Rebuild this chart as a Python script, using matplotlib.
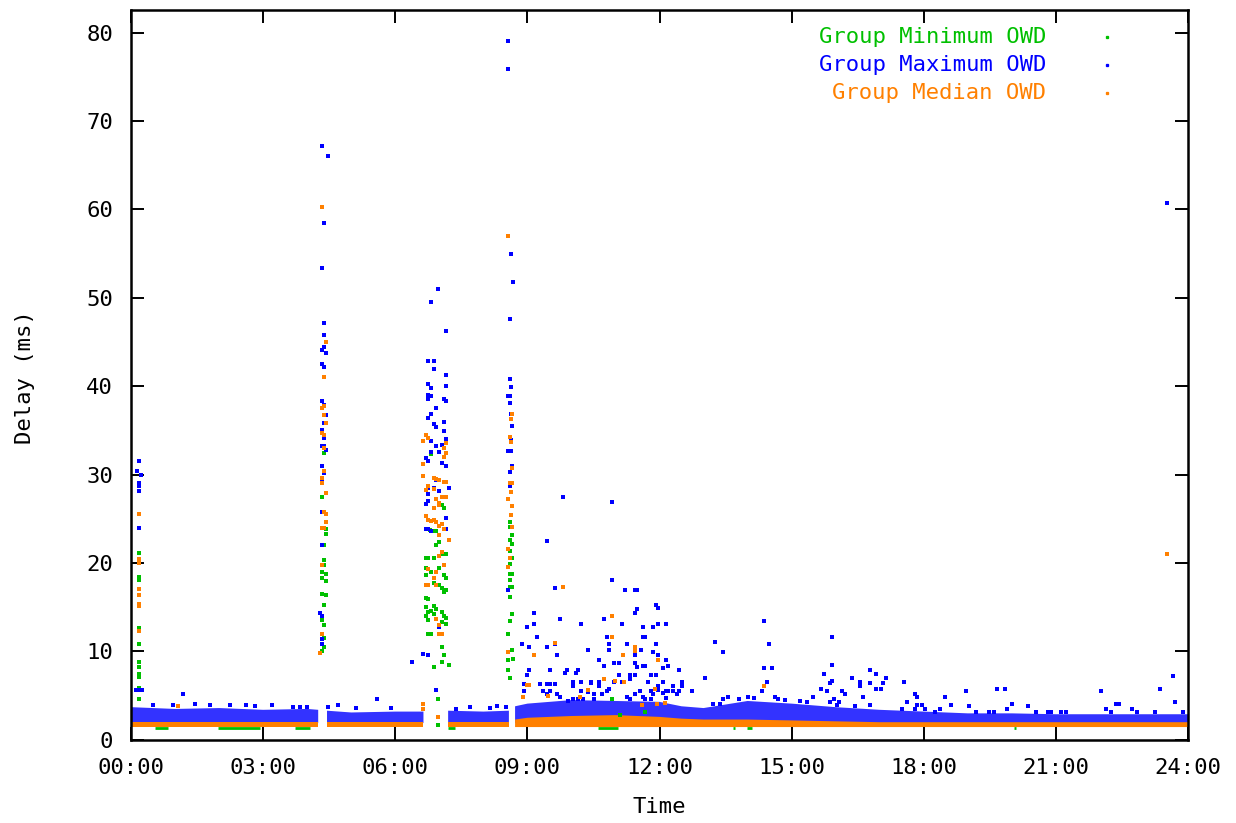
import numpy as np
import matplotlib.pyplot as plt

# colours of the three series (gnuplot-like)
c_min = '#00c000'
c_max = '#0000ff'
c_med = '#ff8000'

# x ticks (hours) and y ticks (ms)
hour_ticks = [0, 3, 6, 9, 12, 15, 18, 21, 24]
hour_labels = ['00:00', '03:00', '06:00', '09:00', '12:00', '15:00', '18:00', '21:00', '24:00']
ms_ticks = [0, 10, 20, 30, 40, 50, 60, 70, 80]

# dense baseline bands (hours, ms); nan = gap in the data
band_hours = [0, 1, 2, 3, 4, 4.25, 4.35, 4.45, 5, 6, 6.64, 6.9, 7.2, 8, 8.58, 8.65, 8.72,
              9, 10, 11, 12, 12.5, 13, 14, 15, 16, 17, 18, 19, 20, 21, 22, 23, 24]
nan = np.nan
max_band_top = [3.7, 3.5, 3.6, 3.4, 3.5, 3.4, nan, 3.3, 3.1, 3.2, 3.2, nan, 3.3, 3.2, 3.3, nan, 3.8,
                4.1, 4.5, 4.4, 4.3, 3.8, 3.6, 4.4, 4.1, 3.7, 3.4, 3.2, 3.0, 3.0, 2.9, 2.9, 2.9, 2.9]
max_band_bottom = [1.9, 1.9, 1.9, 1.9, 1.9, 1.9, nan, 1.9, 1.9, 1.9, 1.9, nan, 1.9, 1.9, 1.9, nan, 1.9,
                   1.9, 1.9, 1.9, 1.9, 1.9, 1.9, 1.9, 1.9, 1.9, 1.9, 1.9, 1.9, 1.9, 1.9, 1.9, 1.9, 1.9]
med_band_top = [2.0, 2.0, 2.0, 2.0, 2.0, 2.0, nan, 2.0, 2.0, 2.0, 2.0, nan, 2.0, 2.0, 2.0, nan, 2.3,
                2.5, 2.7, 2.8, 2.6, 2.4, 2.3, 2.3, 2.2, 2.1, 2.0, 2.0, 2.0, 2.0, 2.0, 2.0, 2.0, 2.0]
med_band_bottom = [1.45, 1.45, 1.45, 1.45, 1.45, 1.45, nan, 1.45, 1.45, 1.45, 1.45, nan, 1.45, 1.45, 1.45, nan, 1.45,
                   1.45, 1.45, 1.45, 1.45, 1.45, 1.45, 1.45, 1.45, 1.45, 1.45, 1.45, 1.45, 1.45, 1.45, 1.45, 1.45, 1.45]

# stretches where the group minimum shows below the median band
min_floor_start = [0.55, 1.98, 3.72, 7.20, 10.60, 13.67, 13.99, 20.05]
min_floor_end = [0.84, 2.93, 4.07, 7.36, 11.06, 13.72, 14.10, 20.10]
min_floor_ms = 1.3

# individual points (hours, ms)
min_points = [
    (0.18, 21.1), (0.18, 18.4), (0.18, 18.1), (0.18, 12.6), (0.18, 10.9), (0.18, 8.8), (0.18, 8.2),
    (0.18, 7.5), (0.18, 7.1), (0.18, 5.9), (0.18, 4.6),
    (4.38, 32.4), (4.34, 27.5), (4.42, 23.8), (4.42, 23.3), (4.38, 22.0), (4.38, 20.3), (4.38, 19.8),
    (4.34, 19.0), (4.34, 18.3), (4.42, 18.8), (4.42, 18.0), (4.34, 16.5), (4.42, 16.4), (4.38, 15.2),
    (4.34, 13.6), (4.38, 13.0), (4.38, 11.5), (4.34, 10.9), (4.38, 10.5), (4.34, 10.1),
    (6.81, 32.3), (6.69, 20.6), (6.75, 20.6), (6.87, 20.6), (7.05, 21.0), (7.16, 21.0), (6.93, 23.6),
    (6.87, 23.6), (6.99, 22.4), (6.93, 22.0), (7.05, 26.6), (7.11, 26.2), (6.69, 19.4), (6.81, 19.0),
    (6.69, 18.7), (6.99, 19.4), (7.11, 18.6), (7.16, 18.3), (6.87, 17.7), (6.99, 17.5), (7.05, 17.2),
    (7.11, 16.7), (7.16, 16.9), (6.69, 16.0), (6.75, 15.9), (6.69, 15.0), (6.87, 15.1), (6.93, 14.8),
    (6.75, 14.5), (6.81, 14.6), (6.69, 14.0), (6.87, 14.2), (6.75, 13.6), (7.05, 14.5), (7.11, 14.0),
    (7.16, 13.8), (7.05, 13.3), (7.16, 13.1), (6.75, 12.0), (6.81, 12.0), (7.05, 10.5), (7.11, 9.6),
    (6.87, 8.2), (7.05, 8.8), (7.22, 8.5), (6.98, 4.6), (6.79, 23.7), (6.98, 1.7),
    (8.60, 24.6), (8.60, 24.1), (8.64, 23.2), (8.60, 22.6), (8.64, 22.1), (8.60, 21.4), (8.64, 20.6),
    (8.60, 19.9), (8.60, 18.8), (8.64, 18.8), (8.60, 18.1), (8.60, 17.3), (8.64, 17.3), (8.60, 16.2),
    (8.64, 14.2), (8.60, 13.5), (8.55, 12.0), (8.64, 10.2), (8.57, 9.0), (8.68, 9.2), (8.57, 7.9),
    (8.60, 7.0),
    (10.92, 4.6), (11.10, 2.8), (11.67, 3.2),
]

max_points = [
    (0.18, 31.6), (0.14, 30.4), (0.23, 30.0), (0.18, 29.0), (0.18, 28.7), (0.18, 28.1), (0.18, 24.0),
    (0.11, 5.6), (0.18, 5.6), (0.26, 5.6),
    (4.34, 67.2), (4.47, 66.0), (4.38, 58.5), (4.34, 53.4), (4.38, 47.2), (4.38, 45.8), (4.34, 44.1),
    (4.38, 44.4), (4.42, 43.8), (4.34, 42.5), (4.38, 42.2), (4.34, 38.3), (4.38, 37.9), (4.42, 36.7),
    (4.38, 35.8), (4.34, 35.0), (4.38, 34.1), (4.34, 33.2), (4.38, 33.2), (4.42, 32.8), (4.34, 31.0),
    (4.38, 30.2), (4.34, 29.4), (4.34, 25.8), (4.34, 22.0), (4.30, 14.4), (4.34, 14.0), (4.34, 11.4),
    (4.34, 10.9),
    (6.98, 51.0), (6.81, 49.5), (7.16, 46.3), (6.75, 42.8), (6.87, 42.8), (6.87, 41.9), (7.16, 41.3),
    (6.75, 40.3), (6.81, 39.8), (6.75, 39.0), (6.81, 38.9), (6.75, 38.5), (7.16, 40.0), (7.11, 38.6),
    (7.16, 38.3), (6.93, 37.5), (6.81, 36.9), (6.75, 36.4), (6.87, 35.7), (6.93, 35.4), (7.11, 36.0),
    (7.11, 34.9), (7.16, 34.0), (6.81, 33.8), (6.93, 33.2), (7.05, 33.4), (6.99, 32.6), (6.81, 32.6),
    (6.69, 31.9), (6.75, 31.5), (7.05, 31.3), (7.16, 31.0), (6.93, 29.4), (6.99, 29.4), (6.75, 28.5),
    (6.75, 27.8), (6.87, 28.5), (6.99, 28.1), (7.22, 28.5), (6.69, 26.7), (6.75, 27.0), (6.69, 23.8),
    (6.75, 23.8), (6.81, 23.6), (7.16, 25.1), (7.16, 23.9), (6.99, 12.8), (6.64, 9.7), (6.75, 9.6),
    (6.39, 8.8), (6.93, 5.6), (6.64, 3.5),
    (8.57, 79.0), (8.57, 75.9), (8.62, 55.0), (8.68, 51.8), (8.60, 47.6), (8.60, 40.8), (8.62, 39.9),
    (8.57, 38.9), (8.60, 38.9), (8.60, 38.1), (8.62, 36.9), (8.62, 36.3), (8.64, 35.5), (8.62, 33.9),
    (8.57, 32.7), (8.62, 32.7), (8.64, 31.0), (8.60, 30.3), (8.60, 28.7), (8.57, 16.9),
    (1.17, 5.2), (5.58, 4.6), (1.45, 4.1), (2.82, 3.8), (2.60, 3.9), (3.67, 3.7), (3.84, 3.7),
    (3.99, 3.7), (4.71, 3.9), (4.48, 3.7), (8.51, 3.7), (8.15, 3.6), (7.38, 3.5),
    (0.50, 4.0), (0.95, 3.9), (1.80, 4.0), (2.25, 3.9), (3.20, 3.9), (5.10, 3.6), (5.90, 3.6),
    (7.70, 3.7), (8.30, 3.8),
    (9.80, 27.5), (10.92, 26.9), (9.45, 22.5), (10.92, 18.1), (9.63, 17.2), (11.22, 16.9), (11.44, 16.9),
    (11.49, 16.9), (11.49, 14.8), (11.44, 14.3), (11.92, 15.2), (11.97, 14.9), (9.15, 14.3), (9.74, 13.7),
    (10.74, 13.7), (8.98, 12.8), (9.15, 13.1), (10.21, 13.1), (11.14, 13.1), (11.62, 12.8), (11.86, 12.8),
    (11.97, 13.1), (12.15, 13.1), (9.21, 11.6), (10.80, 11.6), (10.92, 11.6), (11.62, 11.6), (11.67, 11.6),
    (9.04, 10.5), (9.45, 10.5), (9.63, 10.8), (10.85, 10.8), (10.85, 10.2), (11.27, 10.8), (11.44, 10.2),
    (11.91, 10.8), (10.38, 10.2), (11.44, 9.6), (11.44, 8.7), (11.49, 8.2), (11.57, 10.2), (11.97, 9.6),
    (11.86, 9.9), (9.68, 9.6), (11.09, 8.7), (10.97, 8.7), (10.63, 9.0), (10.74, 8.4), (11.62, 8.4),
    (11.67, 8.4), (12.15, 9.0), (12.20, 8.4), (12.09, 8.1), (12.45, 7.9), (13.26, 11.1), (13.43, 9.9),
    (13.03, 7.0), (12.73, 5.5), (12.50, 6.6), (10.16, 7.9), (10.10, 7.6), (9.85, 7.6), (9.91, 7.9),
    (8.98, 7.3), (9.04, 7.9), (9.51, 7.9), (9.29, 6.3), (9.45, 6.3), (9.51, 6.3), (9.63, 6.3),
    (8.92, 6.3), (10.04, 6.6), (10.21, 6.6), (10.04, 6.1), (10.44, 6.6), (10.38, 5.4), (10.44, 6.4),
    (10.63, 6.6), (10.63, 6.1), (11.09, 7.3), (10.97, 6.6), (11.14, 6.6), (11.33, 7.3), (11.44, 7.3),
    (11.33, 6.9), (11.73, 6.6), (11.80, 7.3), (11.91, 7.3), (11.97, 6.1), (12.09, 6.6), (12.31, 6.1),
    (12.50, 6.1), (12.45, 5.5), (12.39, 5.2), (12.15, 4.7), (12.09, 5.3), (11.97, 5.6), (13.56, 4.9),
    (13.21, 4.1), (13.37, 4.1), (13.45, 4.6), (10.21, 5.5), (10.27, 4.6), (10.16, 4.6), (10.51, 5.2),
    (10.51, 4.6), (10.69, 5.2), (9.35, 5.5), (9.45, 5.2), (9.51, 5.5), (9.74, 4.9), (9.68, 5.2),
    (9.93, 4.4), (10.04, 4.6), (10.80, 5.5), (10.86, 5.8), (11.27, 4.9), (11.33, 4.6), (11.44, 5.2),
    (11.56, 5.5), (11.62, 4.9), (11.67, 4.6), (11.80, 5.5), (11.86, 5.2), (11.80, 4.6), (12.15, 5.5),
    (12.20, 5.5), (12.31, 5.5), (8.92, 5.5), (8.87, 10.8),
    (14.37, 13.4), (14.49, 10.8), (14.37, 8.1), (14.55, 8.1), (14.43, 6.6), (14.32, 5.5), (14.62, 4.9),
    (15.91, 11.6), (15.91, 8.5), (15.74, 7.5), (15.86, 6.4), (15.91, 6.7), (15.67, 5.8), (15.80, 5.5),
    (15.49, 4.9), (16.14, 5.5), (16.20, 5.2), (15.97, 4.6), (16.08, 4.3), (16.02, 4.0), (15.86, 4.3),
    (16.38, 7.0), (16.55, 6.6), (16.55, 6.1), (16.78, 7.9), (16.91, 7.5), (17.14, 7.0), (17.08, 6.4),
    (17.02, 5.8), (16.91, 5.8), (16.78, 6.4), (16.61, 4.9), (16.44, 3.8), (16.79, 4.0), (17.55, 6.6),
    (17.79, 5.2), (17.84, 4.9), (17.61, 4.3), (17.84, 4.0), (17.95, 4.0), (18.48, 4.9), (18.61, 4.0),
    (18.96, 5.5), (19.02, 3.8), (19.66, 5.8), (19.84, 5.8), (17.50, 3.5), (17.79, 3.5), (18.02, 3.5),
    (18.26, 3.2), (18.37, 3.5), (19.19, 3.2), (19.49, 3.1), (19.60, 3.2), (20.01, 4.1), (19.90, 3.5),
    (20.37, 3.8), (20.54, 3.2), (20.83, 3.2), (20.89, 3.2), (21.12, 3.1), (21.24, 3.1), (22.02, 5.5),
    (22.13, 3.5), (22.24, 3.2), (22.37, 4.1), (22.43, 4.1), (22.72, 3.5), (22.84, 3.2), (23.24, 3.2),
    (23.37, 5.8), (23.65, 7.2), (23.71, 4.3), (23.89, 3.1), (23.52, 60.7),
    (13.80, 4.6), (14.00, 4.8), (14.15, 4.7), (14.70, 4.6), (14.85, 4.5), (15.20, 4.4), (15.35, 4.3),
]

med_points = [
    (0.18, 25.5), (0.18, 20.5), (0.18, 20.0), (0.18, 17.1), (0.18, 16.4), (0.18, 15.4), (0.18, 15.1),
    (0.18, 12.3),
    (4.34, 60.3), (4.42, 45.0), (4.38, 41.0), (4.38, 37.8), (4.34, 37.5), (4.38, 36.7), (4.42, 35.8),
    (4.34, 34.7), (4.38, 34.5), (4.38, 33.0), (4.38, 30.4), (4.34, 29.6), (4.34, 29.0), (4.42, 27.9),
    (4.38, 25.8), (4.42, 25.5), (4.42, 24.7), (4.34, 24.0), (4.38, 24.0), (4.34, 19.8), (4.30, 9.8),
    (4.34, 12.0),
    (6.69, 34.5), (6.75, 34.2), (6.64, 33.8), (7.16, 33.6), (7.11, 33.0), (7.16, 32.4), (7.11, 32.0),
    (6.62, 31.2), (6.64, 29.9), (6.87, 29.6), (6.93, 29.5), (6.99, 29.4), (7.11, 29.2), (7.16, 29.2),
    (6.75, 28.7), (6.69, 28.3), (6.87, 28.4), (7.05, 27.5), (7.16, 27.5), (6.93, 27.3), (6.99, 26.8),
    (6.87, 26.2), (6.99, 26.6), (6.69, 25.3), (6.75, 24.9), (6.81, 24.8), (6.87, 24.9), (6.93, 24.6),
    (6.99, 24.2), (7.05, 24.4), (7.22, 22.6), (6.99, 23.2), (7.11, 23.9), (7.05, 21.3), (6.99, 20.8),
    (7.11, 19.8), (6.75, 19.3), (6.93, 19.0), (6.87, 18.3), (6.69, 17.5), (6.75, 17.5), (6.93, 17.5),
    (6.93, 13.7), (6.99, 13.0), (6.99, 12.0), (7.05, 12.0), (6.64, 4.1), (6.62, 3.5), (6.97, 2.6),
    (8.57, 57.0), (8.66, 36.9), (8.62, 36.3), (8.60, 34.3), (8.62, 33.7), (8.64, 30.7), (8.60, 29.0),
    (8.64, 29.0), (8.62, 28.0), (8.57, 27.3), (8.64, 26.5), (8.62, 25.4), (8.64, 24.1), (8.57, 21.6),
    (8.60, 20.6), (8.55, 19.6), (8.55, 9.9),
    (9.80, 17.3), (10.92, 14.0), (9.63, 11.0), (9.15, 9.6), (10.93, 11.6), (11.44, 10.5), (11.44, 10.0),
    (11.16, 9.6), (11.97, 9.0), (10.74, 6.9), (10.99, 6.7), (11.20, 6.5), (10.38, 5.6), (8.98, 6.2),
    (9.04, 6.2), (8.91, 4.8), (11.90, 5.8), (14.37, 6.1), (9.47, 5.0), (10.20, 4.8), (11.60, 3.9),
    (11.94, 4.1), (12.13, 4.2), (1.06, 3.8), (23.52, 21.0),
]

legend_labels = ['Group Minimum OWD', 'Group Maximum OWD', 'Group Median OWD']

plt.rcParams['font.family'] = ['DejaVu Sans Mono']

fig = plt.figure(figsize=(12.36, 8.23), dpi=100)
ax = fig.add_axes([0.106, 0.101, 0.8552, 0.887])

# dense bands
ax.fill_between(band_hours, max_band_bottom, max_band_top, color=c_max, alpha=0.8, linewidth=0)
ax.hlines([min_floor_ms] * len(min_floor_start), min_floor_start, min_floor_end, color=c_min, linewidth=2)
ax.fill_between(band_hours, med_band_bottom, med_band_top, color=c_med, linewidth=0)

# single points, drawn min, max, median like the original
for pts, col in [(min_points, c_min), (max_points, c_max), (med_points, c_med)]:
    t, d = np.array(pts).T
    ax.scatter(t, d, s=7, marker='s', color=col, linewidths=0, zorder=3)

ax.set_xlim(0, 24)
ax.set_ylim(0, 82.57)
ax.set_xticks(hour_ticks)
ax.set_xticklabels(hour_labels)
ax.set_yticks(ms_ticks)
ax.tick_params(direction='in', length=9.5, width=1.4, top=True, right=True, labelsize=16, pad=13)
for s in ax.spines.values():
    s.set_linewidth(1.8)

ax.set_xlabel('Time', fontsize=16)
ax.xaxis.set_label_coords(0.5, -0.078)
ax.set_ylabel('Delay (ms)', fontsize=16)
ax.yaxis.set_label_coords(-0.091, 0.497)

# legend, right-aligned like gnuplot's key
for i, (lab, col) in enumerate(zip(legend_labels, [c_min, c_max, c_med])):
    y = 0.963 - i * 0.0385
    ax.text(0.866, y, lab, transform=ax.transAxes, ha='right', va='center', color=col, fontsize=16)
    ax.plot([0.923], [y], transform=ax.transAxes, marker='s', markersize=1.4, color=col, linestyle='none')

fig.savefig('out.png', dpi=100)
